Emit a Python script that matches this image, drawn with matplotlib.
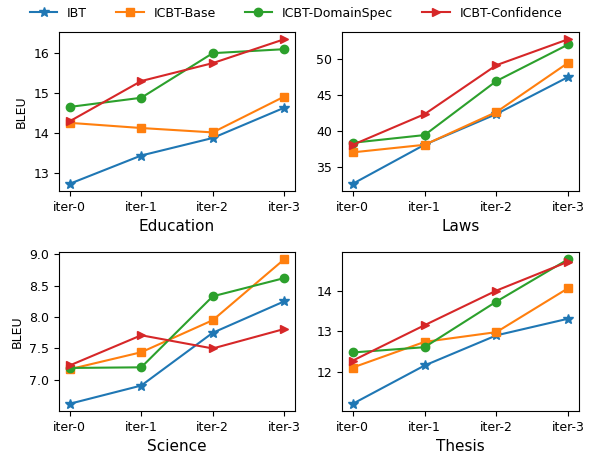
import matplotlib
matplotlib.use("Agg")
import matplotlib.pyplot as plt

iters = ["iter-0", "iter-1", "iter-2", "iter-3"]
methods = ["IBT", "ICBT-Base", "ICBT-DomainSpec", "ICBT-Confidence"]
markers = ["*", "s", "o", ">"]
colors = ["#1f77b4", "#ff7f0e", "#2ca02c", "#d62728"]

education = {
    "IBT": [12.72, 13.43, 13.87, 14.63],
    "ICBT-Base": [14.25, 14.12, 14.01, 14.91],
    "ICBT-DomainSpec": [14.65, 14.88, 16.0, 16.1],
    "ICBT-Confidence": [14.29, 15.3, 15.75, 16.35],
}
laws = {
    "IBT": [32.74, 38.16, 42.42, 47.56],
    "ICBT-Base": [37.1, 38.15, 42.7, 49.54],
    "ICBT-DomainSpec": [38.43, 39.5, 47.0, 52.07],
    "ICBT-Confidence": [38.15, 42.4, 49.2, 52.8],
}
science = {
    "IBT": [6.62, 6.91, 7.75, 8.25],
    "ICBT-Base": [7.17, 7.44, 7.95, 8.92],
    "ICBT-DomainSpec": [7.19, 7.2, 8.33, 8.62],
    "ICBT-Confidence": [7.23, 7.71, 7.5, 7.81],
}
thesis = {
    "IBT": [11.22, 12.16, 12.9, 13.31],
    "ICBT-Base": [12.11, 12.74, 12.98, 14.06],
    "ICBT-DomainSpec": [12.48, 12.61, 13.73, 14.77],
    "ICBT-Confidence": [12.28, 13.15, 14.0, 14.71],
}

W, H = 592, 455
fig = plt.figure(figsize=(W / 100, H / 100), dpi=100)

def rect(l, r, t, b):
    return [l / W, 1 - b / H, (r - l) / W, (b - t) / H]

panels = [
    (education, "Education", rect(59, 295, 32, 191), True),
    (laws, "Laws", rect(342, 579, 32, 191), False),
    (science, "Science", rect(59, 295, 252, 411), True),
    (thesis, "Thesis", rect(342, 579, 252, 411), False),
]

handles = []
for data, name, r, ylab in panels:
    ax = fig.add_axes(r)
    for m, mk, c in zip(methods, markers, colors):
        ms = 7 if mk == "*" else 6
        h, = ax.plot(iters, data[m], marker=mk, color=c, label=m, markersize=ms, linewidth=1.5)
        if name == "Education":
            handles.append(h)
    ax.set_xlabel(name, fontsize=11, labelpad=4)
    if ylab:
        ax.set_ylabel("BLEU", fontsize=9)
    ax.tick_params(labelsize=9)

fig.legend(handles=handles, labels=methods, loc="upper center", ncol=4, frameon=False,
           bbox_to_anchor=(0.5, 1.01), fontsize=9, columnspacing=2.3, handlelength=2.2)

fig.savefig("out.png", dpi=100)
